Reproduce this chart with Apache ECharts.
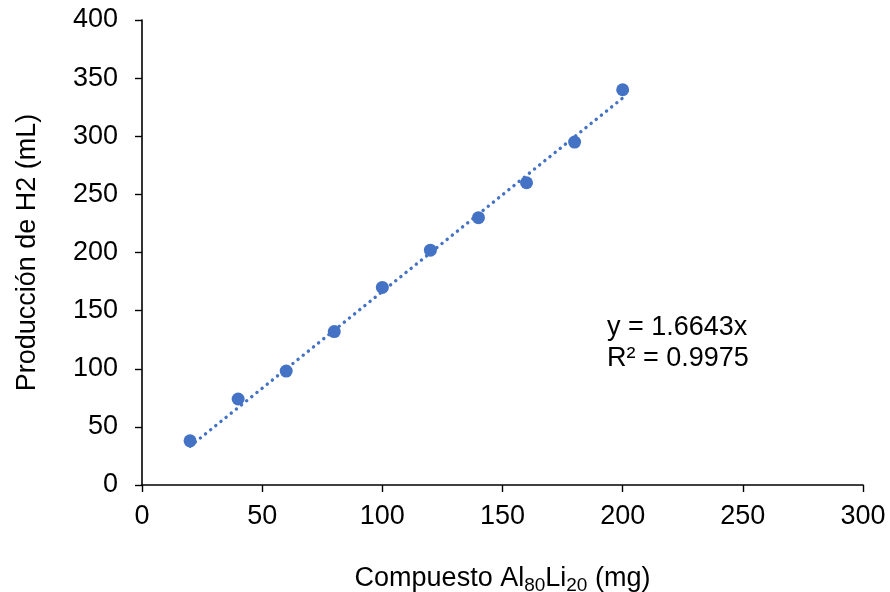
<!DOCTYPE html>
<html>
<head>
<meta charset="utf-8">
<script src="https://cdn.jsdelivr.net/npm/echarts@6/dist/echarts.min.js"></script>
<style>
html,body{margin:0;padding:0;background:#fff;}
#c{width:890px;height:592px;}
</style>
</head>
<body>
<div id="c"></div>
<script>
const xValues = [20, 40, 60, 80, 100, 120, 140, 160, 180, 200];
const yValues = [38, 74, 98, 132, 170, 202, 230, 260, 295, 340];
const trendSlope = 1.6643;
const trendR2 = 0.9975;
const trendRange = [20, 200];
const xTicks = [0, 50, 100, 150, 200, 250, 300];
const yTicks = [0, 50, 100, 150, 200, 250, 300, 350, 400];

const chart = echarts.init(document.getElementById('c'));
const font = 'Liberation Sans, Arial, sans-serif';
const pts = xValues.map((x, i) => [x, yValues[i]]);
const trend = trendRange.map(x => [x, trendSlope * x]);

chart.setOption({
  animation: false,
  backgroundColor: '#fff',
  grid: {left: 142, right: 27, top: 20, bottom: 107, containLabel: false, outerBoundsMode: 'none'},
  xAxis: {
    type: 'value', min: xTicks[0], max: xTicks[xTicks.length-1], interval: 50,
    axisLine: {show: true, lineStyle: {color: '#000', width: 1.6}},
    axisTick: {show: true, length: 7, lineStyle: {color: '#000', width: 1.4}},
    axisLabel: {color: '#000', fontSize: 27, fontFamily: font, margin: 18},
    splitLine: {show: false},
    name: '{n|Compuesto Al}{s|80}{n|Li}{s|20}{n| (mg)}',
    nameLocation: 'middle', nameGap: 77,
    nameTextStyle: {
      rich: {
        n: {fontSize: 27, fontFamily: font, color: '#000'},
        s: {fontSize: 19, fontFamily: font, color: '#000', padding: [14, 0, 0, 0]}
      }
    }
  },
  yAxis: {
    type: 'value', min: yTicks[0], max: yTicks[yTicks.length-1], interval: 50,
    axisLine: {show: true, lineStyle: {color: '#000', width: 1.6}},
    axisTick: {show: true, length: 7, lineStyle: {color: '#000', width: 1.4}},
    axisLabel: {color: '#000', fontSize: 27, fontFamily: font, margin: 24},
    splitLine: {show: false},
    name: 'Producción de H2 (mL)',
    nameLocation: 'middle', nameGap: 101, nameRotate: 90,
    nameTextStyle: {fontSize: 27, fontFamily: font, color: '#000'}
  },
  series: [
    {
      type: 'scatter', data: pts, symbol: 'circle', symbolSize: 13,
      itemStyle: {color: '#4472C4', opacity: 1}, z: 2
    },
    {
      type: 'line', data: trend, showSymbol: false, symbol: 'none',
      lineStyle: {color: '#4472C4', width: 3.4, type: [0.1, 6.5], cap: 'round'},
      z: 3
    }
  ],
  graphic: [
    {
      type: 'text', left: 607, top: 312,
      style: {
        text: 'y = ' + trendSlope + 'x\nR² = ' + trendR2,
        fontSize: 27, fontFamily: font, fill: '#000', lineHeight: 31
      }
    }
  ]
});
</script>
</body>
</html>
